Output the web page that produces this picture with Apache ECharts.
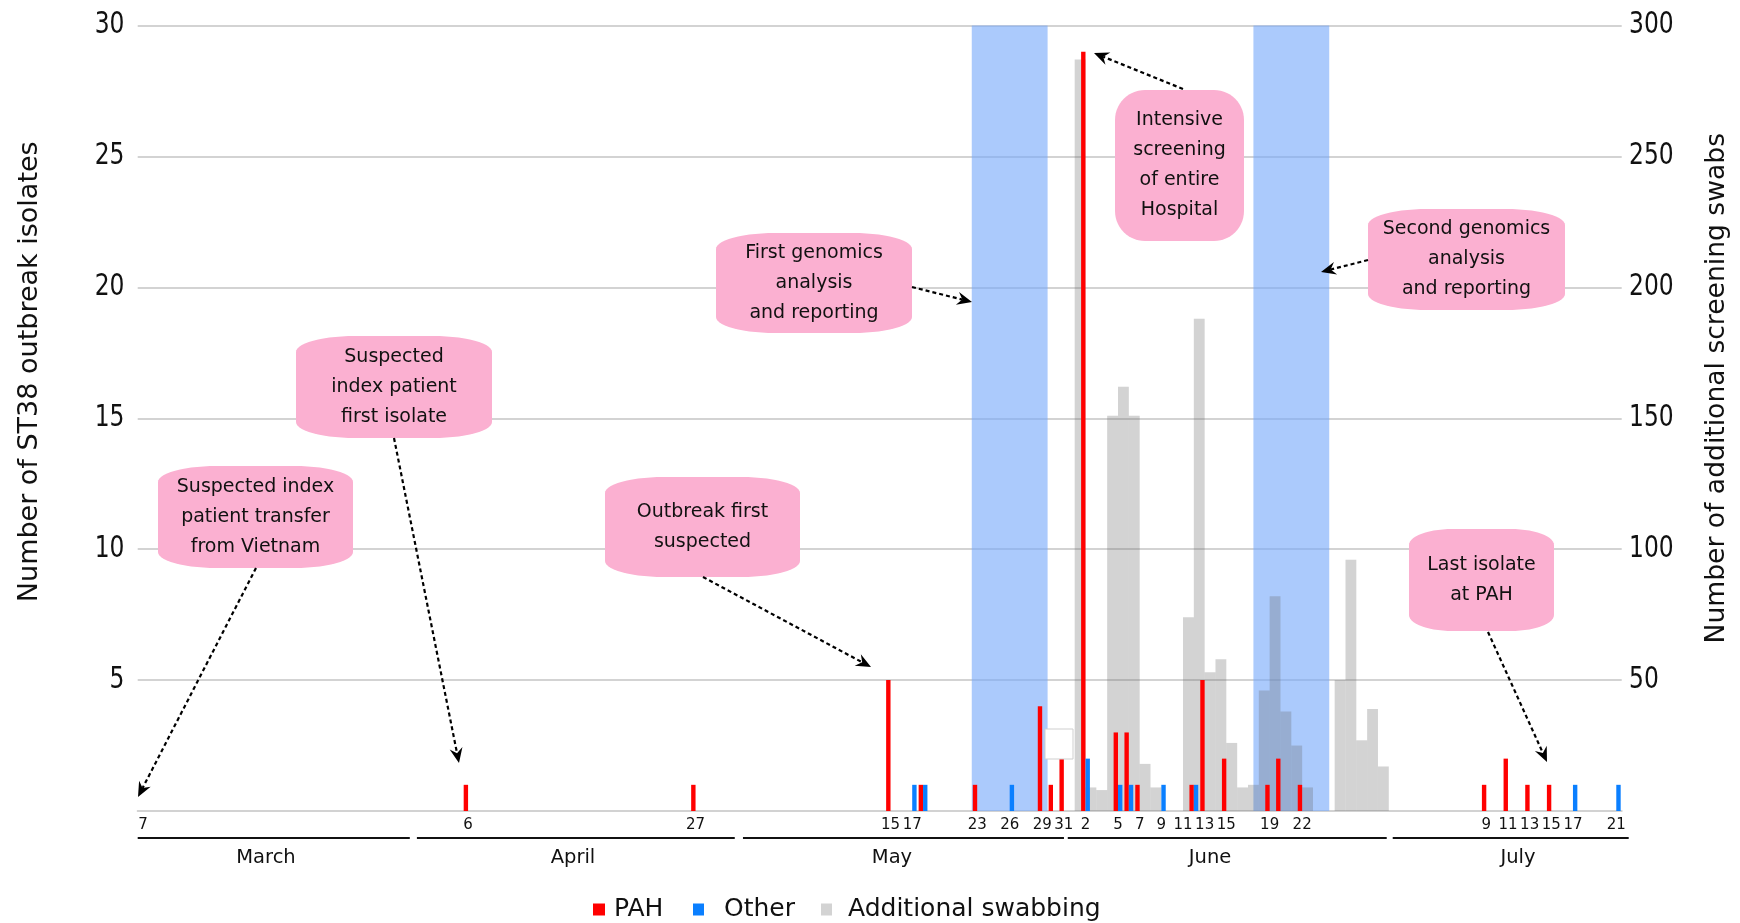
<!DOCTYPE html>
<html><head><meta charset="utf-8">
<script src="https://cdn.jsdelivr.net/npm/echarts@6/dist/echarts.min.js"></script>
<style>html,body{margin:0;padding:0;background:#fff}#c{width:1740px;height:923px}</style>
</head><body><div id="c"></div>
<script>
// ---- calendar: 7 March to 21 July ----
const monthNames = ['March', 'April', 'May', 'June', 'July'];
const monthNumbers = [3, 4, 5, 6, 7];
const monthLengths = [31, 30, 31, 30, 31];
const firstDayOfMarch = 7;
const lastDayOfJuly = 21;

// dates that carry a tick label
const labelledDates = ['03-07','04-06','04-27','05-15','05-17','05-23','05-26','05-29','05-31',
  '06-02','06-05','06-07','06-09','06-11','06-13','06-15','06-19','06-22',
  '07-09','07-11','07-13','07-15','07-17','07-21'];

// y tick labels
const leftTicks = [5, 10, 15, 20, 25, 30];
const rightTicks = [50, 100, 150, 200, 250, 300];

// PAH isolates (left axis)
const pahDates  = ['04-06','04-27','05-15','05-18','05-23','05-29','05-30','05-31','06-02','06-05','06-06','06-07','06-12','06-13','06-15','06-19','06-20','06-22','07-09','07-11','07-13','07-15'];
const pahValues = [1,1,5,1,1,4,1,2,29,3,3,1,1,5,2,1,2,1,1,2,1,1];

// Other isolates (left axis)
const otherDates  = ['05-17','05-18','05-26','06-02','06-05','06-06','06-09','06-12','07-17','07-21'];
const otherValues = [1,1,1,2,1,1,1,1,1,1];

// Additional screening swabs (right axis)
const swabDates  = ['06-02','06-03','06-04','06-05','06-06','06-07','06-08','06-09',
  '06-12','06-13','06-14','06-15','06-16','06-17','06-18','06-19','06-20','06-21','06-22','06-23',
  '06-26','06-27','06-28','06-29','06-30'];
const swabValues = [287,9,8,151,162,151,18,9, 74,188,53,58,26,9,10,46,82,38,25,9, 50,96,27,39,17];

// genomics analysis periods
const bandStarts = ['05-23','06-18'];
const bandEnds   = ['05-29','06-24'];

// annotations
const notes = [
  {text:'Suspected index\npatient transfer\nfrom Vietnam', box:[158,466,195,102], from:[256,568], to:[138,797]},
  {text:'Suspected\nindex patient\nfirst isolate', box:[296,336,196,102], from:[394,438], to:[459,763]},
  {text:'Outbreak first\nsuspected', box:[605,477,195,100], from:[703,577], to:[871,667]},
  {text:'First genomics\nanalysis\nand reporting', box:[716,233,196,100], from:[912,287], to:[972,302]},
  {text:'Intensive\nscreening\nof entire\nHospital', box:[1115,90,129,151], from:[1183,89], to:[1094,53], round:true},
  {text:'Second genomics\nanalysis\nand reporting', box:[1368,209,197,101], from:[1368,260], to:[1321,272]},
  {text:'Last isolate\nat PAH', box:[1409,529,145,102], from:[1488,632], to:[1547,762]}
];

// ---- build categories ----
const dayKeys = [], dayLabels = [], dayMonth = [];
for (let mi = 0; mi < 5; mi++) {
  const s = mi === 0 ? firstDayOfMarch : 1;
  const e = mi === 4 ? lastDayOfJuly : monthLengths[mi];
  for (let d = s; d <= e; d++) {
    dayKeys.push(String(monthNumbers[mi]).padStart(2,'0') + '-' + String(d).padStart(2,'0'));
    dayLabels.push(String(d));
    dayMonth.push(mi);
  }
}
const N = dayKeys.length;
const idx = k => dayKeys.indexOf(k);
const labelSet = new Set(labelledDates.map(idx));
function fill(dates, vals) {
  const arr = dayKeys.map(() => '-');
  dates.forEach((k, i) => { arr[idx(k)] = vals[i]; });
  return arr;
}
const pahData = fill(pahDates, pahValues);
const otherData = fill(otherDates, otherValues);
const swabData = swabDates.map((k, i) => [idx(k), swabValues[i]]);

const W = 1740, H = 923;
const gridL = 137.7, gridR = 118.3, gridT = 25.5, gridB = 112;
const band = (W - gridL - gridR) / N;
const FONT = 'DejaVu Sans, Verdana, sans-serif';

const chart = echarts.init(document.getElementById('c'), null, {renderer: 'canvas'});
chart.setOption({
  animation: false,
  backgroundColor: '#fff',
  grid: {left: gridL, right: gridR, top: gridT, bottom: gridB, containLabel: false},
  xAxis: [{
    type: 'category', data: dayLabels, boundaryGap: true,
    axisLine: {lineStyle: {color: '#d2d2d2', width: 2}},
    axisTick: {interval: 1, length: 6, lineStyle: {color: '#cfcfcf', width: 1.5}},
    axisLabel: {interval: (i) => labelSet.has(i), margin: 7, color: '#111', fontSize: 15, fontFamily: FONT},
    splitLine: {show: false}
  }, {
    type: 'value', min: 0, max: N, show: false, splitLine: {show: false}
  }],
  yAxis: [{
    type: 'value', min: 0, max: 30, interval: 5,
    name: 'Number of ST38 outbreak isolates', nameLocation: 'middle', nameGap: 94,
    nameTextStyle: {fontSize: 27, fontFamily: FONT, color: '#111', padding: [0, 0, 0, 93]},
    axisLine: {show: false}, axisTick: {show: false}, axisLabel: {show: false},
    splitLine: {lineStyle: {color: '#d3d3d3', width: 2}}
  }, {
    type: 'value', min: 0, max: 300, interval: 50,
    name: 'Number of additional screening swabs', nameLocation: 'middle', nameGap: 82, nameRotate: 90,
    nameTextStyle: {fontSize: 26.6, fontFamily: FONT, color: '#111', padding: [0, 0, 0, 60]},
    axisLine: {show: false}, axisTick: {show: false}, axisLabel: {show: false},
    splitLine: {show: false}
  }],
  legend: [
    {data: [{name: 'PAH', icon: 'rect'}], left: 588, top: 890.5, itemWidth: 12, itemHeight: 12,
     textStyle: {fontSize: 25, fontFamily: FONT, color: '#111', lineHeight: 28, padding: [0,0,0,4]}},
    {data: [{name: 'Other', icon: 'rect'}], left: 688, top: 890.5, itemWidth: 11, itemHeight: 12,
     textStyle: {fontSize: 25, fontFamily: FONT, color: '#111', lineHeight: 28, padding: [0,0,0,15]}},
    {data: [{name: 'Additional swabbing', icon: 'rect'}], left: 816, top: 890.5, itemWidth: 11, itemHeight: 12,
     textStyle: {fontSize: 25, fontFamily: FONT, color: '#111', lineHeight: 28, padding: [0,0,0,11]}}
  ],
  series: [{
    name: 'bands', type: 'line', xAxisIndex: 1, yAxisIndex: 1, data: [], z: 1,
    markArea: {silent: true, itemStyle: {color: 'rgba(120,170,250,0.62)'},
      data: bandStarts.map((s, i) => [{xAxis: idx(s)}, {xAxis: idx(bandEnds[i]) + 1}])}
  }, {
    name: 'Additional swabbing', type: 'bar', xAxisIndex: 1, yAxisIndex: 1, z: 2,
    barWidth: band, itemStyle: {color: 'rgba(105,105,105,0.294)'}, data: swabData
  }, {
    name: 'PAH', type: 'bar', xAxisIndex: 0, yAxisIndex: 0, z: 3,
    barWidth: 4.4, barGap: '0%', itemStyle: {color: '#ff0000'}, data: pahData
  }, {
    name: 'Other', type: 'bar', xAxisIndex: 0, yAxisIndex: 0, z: 3,
    barWidth: 4.4, barGap: '0%', itemStyle: {color: '#0a7fff'}, data: otherData
  }]
});

// ---- month brackets, y tick labels, annotations ----
function roundPts(x, y, w, h, rx, ry) {
  const pts = [], n = 14;
  const cs = [[x + w - rx, y + ry, -90, 0], [x + w - rx, y + h - ry, 0, 90], [x + rx, y + h - ry, 90, 180], [x + rx, y + ry, 180, 270]];
  cs.forEach(([cx, cy, a0, a1]) => {
    for (let i = 0; i <= n; i++) {
      const a = (a0 + (a1 - a0) * i / n) * Math.PI / 180;
      pts.push([cx + rx * Math.cos(a), cy + ry * Math.sin(a)]);
    }
  });
  return pts;
}
function arrow(p, q) {
  const dx = q[0] - p[0], dy = q[1] - p[1], L = Math.hypot(dx, dy);
  const ux = dx / L, uy = dy / L, px = -uy, py = ux;
  const hl = 15, hw = 6.5, notch = 5;
  const back = [q[0] - ux * hl, q[1] - uy * hl];
  const nt = [q[0] - ux * (hl - notch), q[1] - uy * (hl - notch)];
  return [
    {type: 'line', shape: {x1: p[0], y1: p[1], x2: nt[0], y2: nt[1]},
     style: {stroke: '#000', lineWidth: 2.2, lineDash: [4, 3]}, z: 20},
    {type: 'polygon', shape: {points: [q, [back[0] + px * hw, back[1] + py * hw], nt, [back[0] - px * hw, back[1] - py * hw]]},
     style: {fill: '#000'}, z: 20}
  ];
}
const g = [];
const toX = u => chart.convertToPixel({xAxisIndex: 1}, u);
// pixel trims of each month bracket [start, end] and label centres
const monthTrim = [[0, -1.3], [8.4, -1.3], [9.5, 5.3], [-1.5, 7.5], [-1.5, -7]];
const monthLabelX = [266, 573, 892, 1210, 1518];
let start = 0;
monthNames.forEach((m, mi) => {
  let cnt = 0; dayMonth.forEach(v => { if (v === mi) cnt++; });
  const x0 = toX(start) + monthTrim[mi][0];
  const x1 = toX(start + cnt) - monthTrim[mi][1];
  g.push({type: 'line', shape: {x1: x0, y1: 838, x2: x1, y2: 838}, style: {stroke: '#111', lineWidth: 2}});
  g.push({type: 'text', x: monthLabelX[mi], y: 857.5, style: {text: m, font: '19.5px ' + FONT, fill: '#111', textAlign: 'center', textVerticalAlign: 'middle'}});
  start += cnt;
});
const YFONT = '30px DejaVu Sans, sans-serif';
leftTicks.forEach(v => {
  g.push({type: 'text', x: 124.5, y: chart.convertToPixel({yAxisIndex: 0}, v), scaleX: 0.78,
    style: {text: String(v), font: YFONT, fill: '#111', textAlign: 'right', textVerticalAlign: 'middle'}});
});
rightTicks.forEach(v => {
  g.push({type: 'text', x: 1629, y: chart.convertToPixel({yAxisIndex: 1}, v), scaleX: 0.78,
    style: {text: String(v), font: YFONT, fill: '#111', textAlign: 'left', textVerticalAlign: 'middle'}});
});
notes.forEach(n => {
  const [x, y, w, h] = n.box;
  const pts = n.round ? roundPts(x, y, w, h, 30, 30) : roundPts(x, y, w, h, w * 0.3, 16);
  g.push({type: 'polygon', shape: {points: pts}, style: {fill: '#fbb0d1'}, z: 15});
  g.push({type: 'text', x: x + w / 2, y: y + h / 2, z: 16,
    style: {text: n.text, font: '19px ' + FONT, fill: '#111', textAlign: 'center', textVerticalAlign: 'middle', lineHeight: 30}});
  arrow(n.from, n.to).forEach(e => g.push(e));
});
g.push({type: 'rect', shape: {x: 1045, y: 729, width: 28, height: 30}, style: {fill: '#fff', stroke: '#cfcfcf', lineWidth: 1}, z: 10});
chart.setOption({graphic: {elements: g}});
</script></body></html>
